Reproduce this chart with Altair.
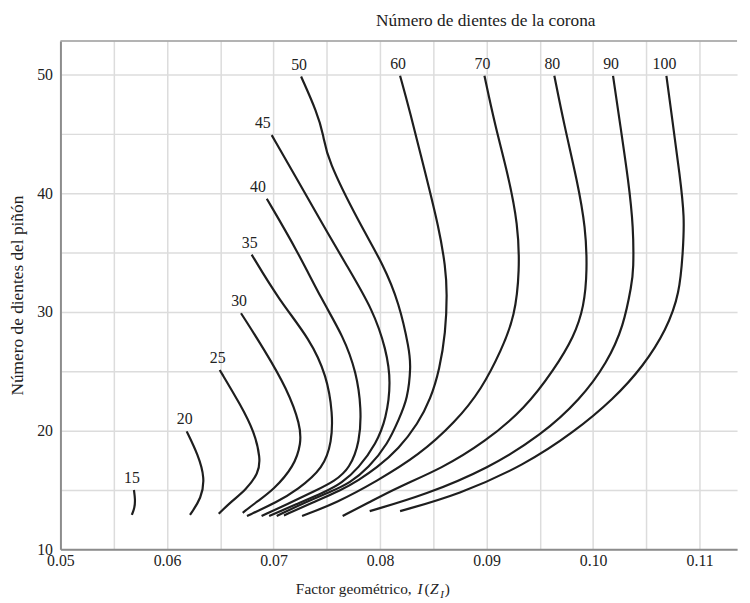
import altair as alt
import pandas as pd

# ---- data (x = factor geometrico I, y = pinion teeth) ----
teeth = [15, 20, 25, 30, 35, 40, 45, 50, 60, 70, 80, 90, 100]

x15 = [0.0569, 0.05702, 0.05697, 0.0567]
y15 = [15.0, 14.2, 13.5, 12.9]
x20 = [0.06185, 0.06293, 0.06356, 0.06324, 0.06216]
y20 = [19.94, 17.94, 16.0, 14.33, 12.9]
x25 = [0.06495, 0.06695, 0.0682, 0.06878, 0.0686, 0.06739, 0.066, 0.06486]
y25 = [25.11, 22.11, 19.89, 17.67, 16.42, 15.0, 14.0, 13.0]
x30 = [0.06695, 0.06913, 0.07129, 0.07253, 0.07259, 0.07194, 0.06999, 0.06841, 0.06711]
y30 = [29.89, 26.83, 23.5, 20.44, 18.92, 17.0, 15.0, 14.0, 13.08]
x35 = [0.06795, 0.07052, 0.07345, 0.0750, 0.07556, 0.07547, 0.0747, 0.07222, 0.07036, 0.06751]
y35 = [34.83, 31.0, 27.67, 24.61, 21.42, 19.08, 16.83, 15.0, 14.0, 12.81]
x40 = [0.06937, 0.07222, 0.07454, 0.07656, 0.07779, 0.07825, 0.0781, 0.07717, 0.07575, 0.07389, 0.07157, 0.06888]
y40 = [39.53, 35.17, 31.0, 27.94, 24.89, 21.83, 19.06, 16.83, 15.75, 14.92, 13.92, 12.81]
x45 = [0.06983, 0.07222, 0.07454, 0.07686, 0.07934, 0.08058, 0.08104, 0.08058, 0.07965, 0.07798, 0.0764, 0.07482, 0.07222, 0.06959]
y45 = [44.89, 41.17, 37.5, 33.92, 30.17, 26.83, 24.08, 21.0, 18.92, 16.83, 15.58, 14.83, 13.83, 12.81]
x50 = [0.07259, 0.07408, 0.0747, 0.075, 0.0781, 0.08027, 0.08181, 0.08274, 0.0829, 0.08259, 0.08178, 0.08076, 0.0789, 0.07714, 0.07556, 0.07287, 0.0703]
y50 = [49.83, 46.83, 44.89, 42.94, 37.39, 34.06, 30.72, 26.83, 25.44, 22.67, 21.0, 18.92, 16.83, 15.58, 14.92, 13.92, 12.81]
x60 = [0.08188, 0.08274, 0.08429, 0.08552, 0.08615, 0.0863, 0.08615, 0.08559, 0.08475, 0.08355, 0.08178, 0.07965, 0.07798, 0.0764, 0.07361, 0.07098]
y60 = [49.89, 47.11, 41.56, 37.11, 33.78, 31.56, 28.22, 25.17, 22.67, 20.58, 18.5, 16.83, 15.83, 15.0, 13.92, 12.86]
x70 = [0.0898, 0.09079, 0.09202, 0.09295, 0.09311, 0.09265, 0.09141, 0.08955, 0.08708, 0.08367, 0.07965, 0.07593, 0.07268]
y70 = [49.89, 45.72, 41.56, 37.39, 33.5, 29.61, 26.83, 23.5, 20.72, 17.94, 15.72, 13.92, 12.81]
x80 = [0.09636, 0.09729, 0.09852, 0.0993, 0.09945, 0.09915, 0.09822, 0.09636, 0.09358, 0.08986, 0.08584, 0.0815, 0.0789, 0.07649]
y80 = [49.89, 45.72, 41.0, 37.11, 33.5, 30.44, 27.94, 25.17, 21.83, 19.06, 16.83, 15.17, 13.92, 12.81]
x90 = [0.10187, 0.10255, 0.10332, 0.10379, 0.10379, 0.10363, 0.10286, 0.10131, 0.09884, 0.09513, 0.09017, 0.08429, 0.07903]
y90 = [49.89, 45.72, 41.0, 37.11, 33.5, 32.39, 28.78, 25.72, 22.67, 19.61, 16.83, 14.61, 13.22]
x100 = [0.10688, 0.1075, 0.10813, 0.10859, 0.10843, 0.10813, 0.10688, 0.10472, 0.10193, 0.09822, 0.09358, 0.08738, 0.08188]
y100 = [49.89, 45.72, 41.56, 37.94, 35.17, 31.56, 28.5, 25.44, 22.67, 19.89, 17.11, 14.61, 13.22]

x_ticks = [0.05, 0.055, 0.06, 0.065, 0.07, 0.075, 0.08, 0.085, 0.09, 0.095, 0.10, 0.105, 0.11]
y_ticks = [10, 15, 20, 25, 30, 35, 40, 45, 50]

curve_x = {15: x15, 20: x20, 25: x25, 30: x30, 35: x35, 40: x40, 45: x45,
           50: x50, 60: x60, 70: x70, 80: x80, 90: x90, 100: x100}
curve_y = {15: y15, 20: y20, 25: y25, 30: y30, 35: y35, 40: y40, 45: y45,
           50: y50, 60: y60, 70: y70, 80: y80, 90: y90, 100: y100}

rows = []
for t in teeth:
    for i, (xv, yv) in enumerate(zip(curve_x[t], curve_y[t])):
        rows.append({"teeth": t, "x": xv, "y": yv, "i": i})
df = pd.DataFrame(rows)
labels_df = df[df["i"] == 0].reset_index(drop=True)

FONT = "Liberation Serif"
INK = "#1e1e1e"
W, H = 684, 514

xenc = alt.X("x:Q",
             scale=alt.Scale(domain=[0.05, 0.11351], nice=False, zero=False),
             axis=alt.Axis(values=x_ticks, title="", ticks=False, grid=True,
                           gridColor="#dcdcdc", gridWidth=1.5,
                           domainColor="#8c8c8c", domainWidth=2,
                           labelExpr="abs(round(datum.value*1000) % 10) == 0 ? format(datum.value, '.2f') : ''",
                           labelFont=FONT, labelFontSize=16, labelColor="#222",
                           labelPadding=3, labelFlush=False, labelOverlap=False))
yenc = alt.Y("y:Q",
             scale=alt.Scale(domain=[10, 52.83], nice=False, zero=False),
             axis=alt.Axis(values=y_ticks, ticks=False, grid=True,
                           gridColor="#dcdcdc", gridWidth=1.5,
                           domainColor="#8c8c8c", domainWidth=2,
                           labelExpr="datum.value % 10 == 0 ? datum.label : ''",
                           labelFont=FONT, labelFontSize=16, labelColor="#222",
                           labelPadding=8, labelOverlap=False,
                           title="Número de dientes del piñón", titleFont=FONT,
                           titleFontSize=17.5, titleFontWeight="normal",
                           titleColor="#222", titlePadding=10))

lines = alt.Chart(df).mark_line(color=INK, strokeWidth=2.2, interpolate="basis").encode(
    x=xenc, y=yenc, detail="teeth:N", order="i:Q")

lab_center = alt.Chart(labels_df).transform_filter(
    "datum.teeth != 40 && datum.teeth != 45").mark_text(
    font=FONT, fontSize=16, color="#222", dx=-2, dy=-12, baseline="middle", align="center").encode(
    x="x:Q", y="y:Q", text="teeth:N")
lab_right = alt.Chart(labels_df).transform_filter(
    "datum.teeth == 40 || datum.teeth == 45").mark_text(
    font=FONT, fontSize=16, color="#222", dx=-1, dy=-12, baseline="middle", align="right").encode(
    x="x:Q", y="y:Q", text="teeth:N")

one = pd.DataFrame({"a": [0]})
top_rule = alt.Chart(one).mark_rule(color="#9a9a9a", strokeWidth=1.5).encode(
    x=alt.value(0), x2=alt.value(W), y=alt.value(0))

top_title = alt.Chart(one).mark_text(text="Número de dientes de la corona", font=FONT, fontSize=17.5,
                                     color="#222", align="center", baseline="alphabetic").encode(
    x=alt.value(430), y=alt.value(-15))

def piece(txt, px, py, size=15.5, italic=False):
    kw = dict(text=txt, font=FONT, fontSize=size, color="#222", align="left", baseline="alphabetic")
    if italic:
        kw["fontStyle"] = "italic"
    return alt.Chart(one).mark_text(**kw).encode(x=alt.value(px), y=alt.value(py))

xt = [
    piece("Factor geométrico,", 238, 559),
    piece("I", 361, 559, italic=True),
    piece("(", 368, 559),
    piece("Z", 373.5, 559, italic=True),
    piece("I", 384, 563, size=11, italic=True),
    piece(")", 388.5, 559),
]

chart = alt.layer(lines, lab_center, lab_right, top_rule, top_title, *xt).properties(
    width=W, height=H,
    autosize=alt.AutoSizeParams(type="none"),
    padding={"left": 53, "top": 30, "right": 5, "bottom": 53},
).configure(font=FONT).configure_view(strokeWidth=0)

chart.save("out.html", embed_options={"renderer": "svg", "actions": False})
